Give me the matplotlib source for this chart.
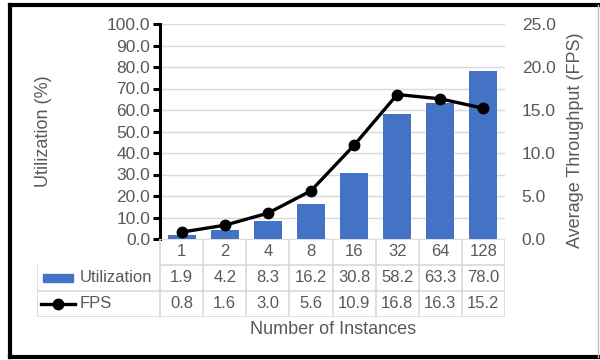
import numpy as np
import matplotlib.pyplot as plt
from matplotlib.lines import Line2D
from matplotlib.patches import Rectangle

plt.rcParams['font.family'] = ['Liberation Sans', 'DejaVu Sans']

instances = ['1', '2', '4', '8', '16', '32', '64', '128']
utilization = [1.9, 4.2, 8.3, 16.2, 30.8, 58.2, 63.3, 78.0]
fps = [0.8, 1.6, 3.0, 5.6, 10.9, 16.8, 16.3, 15.2]

txt = '#595959'
grid = '#d9d9d9'
blue = '#4472C4'
fs = 12

W, H = 600, 360
fig = plt.figure(figsize=(6, 3.6), dpi=100)

def box(x0, y0, x1, y1):
    # pixel box (top-left origin) -> figure fraction rect
    return [x0 / W, 1 - y1 / H, (x1 - x0) / W, (y1 - y0) / H]

x = np.arange(len(instances))

ax = fig.add_axes(box(160, 24, 505, 239))
ax.bar(x, utilization, width=0.65, color=blue, zorder=2)
ax.set_xlim(-0.5, len(instances) - 0.5)
ax.set_ylim(0, 100)
ax.set_yticks(np.arange(0, 101, 10))
ax.set_yticklabels([f'{v:.1f}' for v in np.arange(0, 101, 10)])
ax.set_xticks([])
ax.yaxis.grid(True, color=grid, lw=1)
ax.set_axisbelow(True)
for s in ['top', 'right', 'bottom']:
    ax.spines[s].set_visible(False)
ax.spines['left'].set_linewidth(2.2)
ax.spines['left'].set_color('black')
ax.tick_params(axis='y', colors='black', labelcolor=txt, labelsize=12.5,
               length=5, width=2.2, direction='out', pad=2)

ax2 = ax.twinx()
ax2.plot(x, fps, color='black', lw=2.4, marker='o', ms=7.5, zorder=3)
ax2.set_ylim(0, 25)
ax2.set_yticks(np.arange(0, 26, 5))
ax2.set_yticklabels([f'{v:.1f}' for v in np.arange(0, 26, 5)])
for s in ['top', 'right', 'bottom', 'left']:
    ax2.spines[s].set_visible(False)
ax2.tick_params(axis='y', length=0, labelcolor=txt, labelsize=12.5, pad=12)

fig.text(44 / W, 1 - 131 / H, 'Utilization (%)', rotation=90, ha='center', va='center',
         color=txt, fontsize=13)
fig.text(575 / W, 1 - 140 / H, 'Average Throughput (FPS)', rotation=90, ha='center',
         va='center', color=txt, fontsize=13)

# data table underneath the plot
legw = (160 - 37) / ((505 - 160) / len(instances))
tab = fig.add_axes(box(37, 239, 505, 317))
tab.set_xlim(-0.5 - legw, len(instances) - 0.5)
tab.set_ylim(3, 0)
tab.axis('off')

lk = dict(color=grid, lw=1.2)
left = -0.5 - legw
right = len(instances) - 0.5
for yy in [1, 2, 3]:
    tab.plot([left if yy > 1 else -0.5, right], [yy, yy], **lk)
tab.plot([-0.5, right], [0, 0], **lk)
tab.plot([left, left], [1, 3], **lk)
for i in range(len(instances) + 1):
    tab.plot([i - 0.5, i - 0.5], [0, 3], **lk)

for i, lab in enumerate(instances):
    tab.text(i, 0.5, lab, ha='center', va='center', color=txt, fontsize=fs)
    tab.text(i, 1.5, f'{utilization[i]:.1f}', ha='center', va='center', color=txt, fontsize=fs)
    tab.text(i, 2.5, f'{fps[i]:.1f}', ha='center', va='center', color=txt, fontsize=fs)

# legend keys inside the table
kx0 = left + 0.14
kx1 = kx0 + 0.70
tab.add_patch(Rectangle((kx0, 1.35), kx1 - kx0, 0.3, color=blue))
tab.add_line(Line2D([kx0 - 0.05, kx1 + 0.05], [2.5, 2.5], color='black', lw=2.4))
tab.plot([(kx0 + kx1) / 2], [2.5], 'o', color='black', ms=7.5)
tab.text(kx1 + 0.14, 1.5, 'Utilization', ha='left', va='center', color=txt, fontsize=fs)
tab.text(kx1 + 0.14, 2.5, 'FPS', ha='left', va='center', color=txt, fontsize=fs)

fig.text(333 / W, 1 - 330 / H, 'Number of Instances', ha='center', va='center',
         color=txt, fontsize=13)

# outer frame
fr = dict(transform=fig.transFigure, clip_on=False)
fig.add_artist(Line2D([10 / W, 10 / W], [1 - 5 / H, 1 - 357 / H], color='black', lw=3, **fr))
fig.add_artist(Line2D([10 / W, 598 / W], [1 - 5 / H, 1 - 5 / H], color='black', lw=3, **fr))
fig.add_artist(Line2D([10 / W, 598 / W], [1 - 357 / H, 1 - 357 / H], color='black', lw=3, **fr))
fig.add_artist(Line2D([598 / W, 598 / W], [1 - 5 / H, 1 - 357 / H], color='#bfbfbf', lw=1, **fr))

fig.savefig('out.png', dpi=100)
